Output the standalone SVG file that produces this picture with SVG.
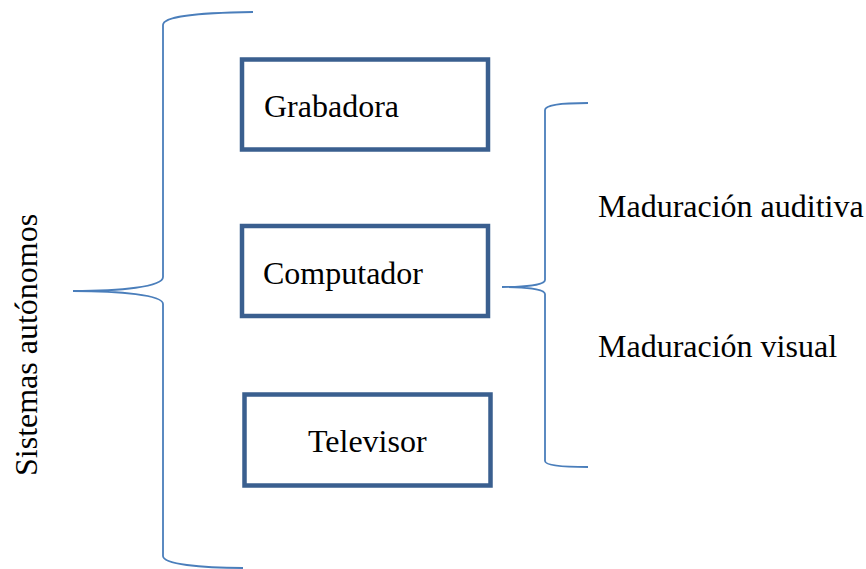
<svg xmlns="http://www.w3.org/2000/svg" width="866" height="569" viewBox="0 0 866 569">
<style>
.box{fill:#fff;stroke:#3a5f8f;stroke-width:4.5;}
.br{fill:none;stroke:#4a7ebb;stroke-width:1.8;}
text{font-family:"Liberation Serif","Times New Roman",serif;font-size:32px;fill:#000;}
</style>
<rect width="866" height="569" fill="#fff"/>
<g id="connectors">
<path class="br" d="M253,12 C190,13 163,17 163,25 L163,277 C163,287 120,291 73,291 C120,291 163,295 163,304 L163,556 C163,564 200,568 243,568"/>
<path class="br" d="M588,103 C560,103 545,105 545,110 L545,280 C545,285 525,287 502,287 C525,287 545,289 545,294 L545,461 C545,465 560,467 588,467"/>
</g>
<g id="grabadora"><rect class="box" x="242" y="59.5" width="246" height="90"/><text x="264" y="117">Grabadora</text></g>
<g id="computador"><rect class="box" x="242" y="226" width="246" height="90"/><text x="263" y="284">Computador</text></g>
<g id="televisor"><rect class="box" x="244.5" y="394.5" width="246" height="91"/><text x="308" y="452">Televisor</text></g>
<g id="sistemas"><text transform="translate(37,476) rotate(-90)">Sistemas autónomos</text></g>
<g id="auditiva"><text x="598" y="217">Maduración auditiva</text></g>
<g id="visual"><text x="598" y="357">Maduración visual</text></g>
</svg>
